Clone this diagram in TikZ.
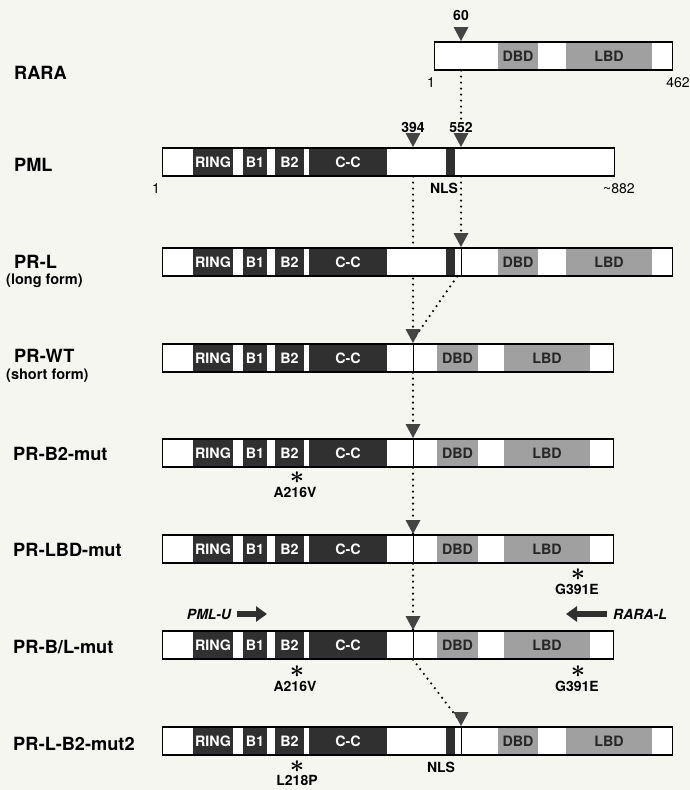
\documentclass[tikz,border=0pt]{standalone}
\usepackage{fontspec}
\setmainfont{TeX Gyre Heros}
\usetikzlibrary{arrows.meta}
\usetikzlibrary{calc}
\definecolor{paper}{HTML}{F6F6F1}
\definecolor{domdark}{HTML}{303030}
\definecolor{domgrey}{HTML}{A0A0A0}
\definecolor{tricol}{HTML}{444444}
\pgfdeclarelayer{paperlayer}
\pgfdeclarelayer{linelayer}
\pgfsetlayers{paperlayer,linelayer,main}
\newcommand{\segfont}{\bfseries\fontsize{14.3}{15}\selectfont}
\newcommand{\rowfont}{\bfseries\fontsize{18.2}{19}\selectfont}
\newcommand{\subfont}{\bfseries\fontsize{14.5}{15}\selectfont}
\newcommand{\numfont}{\fontsize{14}{15}\selectfont}
\newcommand{\mutstar}{{\boldmath$\ast$}}
\newcommand{\pmlsegs}[1]{%
  \node[darkseg=40] at (213,#1) {RING};
  \node[darkseg=24] at (255,#1) {B1};
  \node[darkseg=29] at (289.5,#1) {B2};
  \node[darkseg=78] at (348,#1) {C-C};}
\newcommand{\rarasegs}[1]{%
  \node[greyseg=40] at (518,#1) {DBD};
  \node[greyseg=86] at (609,#1) {LBD};}
\newcommand{\shortsegs}[1]{%
  \node[greyseg=41] at (457.5,#1) {DBD};
  \node[greyseg=86] at (547,#1) {LBD};}
\newcommand{\marker}[3]{%
  \coordinate (#1) at (#2,#3);
  \fill[tricol] (#1) -- ++(-7.5,-14) -- ++(15,0) -- cycle;}
\tikzset{
  bar/.style={draw=black, line width=1.1pt, fill=white, minimum height=28pt,
    inner sep=0pt, anchor=west},
  darkseg/.style={fill=domdark, text=white, minimum width=#1pt,
    minimum height=26.6pt, inner sep=0pt, font=\segfont},
  greyseg/.style={fill=domgrey, text=black!85, minimum width=#1pt,
    minimum height=26.6pt, inner sep=0pt, font=\segfont},
  junction/.style={line width=1pt},
  rowlabel/.style={anchor=west, inner sep=0pt, font=\rowfont},
  sublabel/.style={anchor=west, inner sep=0pt, font=\subfont},
  num/.style={inner sep=1pt, font=\bfseries\numfont},
  numreg/.style={inner sep=1pt, font=\numfont},
  mutlabel/.style={inner sep=0pt, font=\bfseries\numfont},
  star/.style={inner sep=0pt, font=\fontsize{23}{23}\selectfont},
  primer/.style={font=\bfseries\itshape\numfont},
  primerarrow/.style={domdark, line width=6.5pt,
    -{Triangle[length=11pt,width=15pt]}},
  dotline/.style={black, line width=2.4pt, line cap=round,
    dash pattern=on 0pt off 6pt}
}

\begin{document}
\begin{tikzpicture}[x=1pt,y=-1pt]
\useasboundingbox (0,0) rectangle (690,790);
\begin{pgfonlayer}{paperlayer}
\fill[paper] (0,0) rectangle (690,790);
\end{pgfonlayer}

% row names
\node[rowlabel] (lrara) at (14,73) {RARA};
\node[rowlabel] (lpml) at (14,165) {PML};
\node[rowlabel] (lprl) at (14,262) {PR-L};
\node[sublabel] (lprlsub) at (6,281) {(long form)};
\node[rowlabel] (lprwt) at (14,356) {PR-WT};
\node[sublabel] (lprwtsub) at (6,376) {(short form)};
\node[rowlabel] (lprb2) at (13,454) {PR-B2-mut};
\node[rowlabel] (lprlbd) at (13,550) {PR-LBD-mut};
\node[rowlabel] (lprbl) at (13,647) {PR-B/L-mut};
\node[rowlabel] (lprl2) at (13,744) {PR-L-B2-mut2};

% RARA
\node[bar, minimum width=238pt] (rara) at (434,56) {};
\rarasegs{56}
\marker{t60}{461}{41}
\node[num] (n60) at (461,15) {60};
\node[numreg] (r1) at (431,83) {1};
\node[numreg] (r462) at (678,83) {462};

% PML
\node[bar, minimum width=452pt] (pml) at (162,162) {};
\pmlsegs{162}
\node[darkseg=9] (nls) at (450.5,162) {};
\marker{t394}{413}{147}
\marker{t552}{461}{147}
\node[num] (n394) at (413,127) {394};
\node[num] (n552) at (461,127) {552};
\node[numreg] (p1) at (156,189) {1};
\node[numreg] (p882) at (619,189) {\textasciitilde882};
\node[mutlabel] (lnls) at (444,188) {NLS};

% PR-L
\node[bar, minimum width=510pt] (prl) at (162,262) {};
\pmlsegs{262}
\node[darkseg=9] (nlsl) at (450.5,262) {};
\rarasegs{262}
\marker{tprl}{461}{247}
\draw[junction] (tprl |- prl.north) -- (tprl |- prl.south);

% PR-WT
\node[bar, minimum width=451pt] (prwt) at (162,358) {};
\pmlsegs{358}
\shortsegs{358}
\marker{twt}{413}{343}
\draw[junction] (twt |- prwt.north) -- (twt |- prwt.south);

% PR-B2-mut
\node[bar, minimum width=451pt] (prb2) at (162,453) {};
\pmlsegs{453}
\shortsegs{453}
\marker{tb2}{413}{438}
\draw[junction] (tb2 |- prb2.north) -- (tb2 |- prb2.south);
\node[star] (sb2) at (297,478) {\mutstar};
\node[mutlabel] (mb2) at (295,492) {A216V};

% PR-LBD-mut
\node[bar, minimum width=451pt] (prlbd) at (162,549) {};
\pmlsegs{549}
\shortsegs{549}
\marker{tlbd}{413}{534}
\draw[junction] (tlbd |- prlbd.north) -- (tlbd |- prlbd.south);
\node[star] (slbd) at (578,575) {\mutstar};
\node[mutlabel] (mlbd) at (577,589) {G391E};

% PR-B/L-mut
\node[bar, minimum width=451pt] (prbl) at (162,645) {};
\pmlsegs{645}
\shortsegs{645}
\marker{tbl}{413}{630}
\draw[junction] (tbl |- prbl.north) -- (tbl |- prbl.south);
\node[star] (sbl1) at (297,672) {\mutstar};
\node[mutlabel] (mbl1) at (295,686) {A216V};
\node[star] (sbl2) at (578,672) {\mutstar};
\node[mutlabel] (mbl2) at (577,686) {G391E};
\node[primer] (pmlu) at (209,614) {PML-U};
\coordinate (pmluend) at (267,614);
\draw[primerarrow] ([xshift=2pt]pmlu.east) -- (pmluend);
\node[primer] (raral) at (640,614) {RARA-L};
\coordinate (raralend) at (566,614);
\draw[primerarrow] ([xshift=-3pt]raral.west) -- (raralend);

% PR-L-B2-mut2
\node[bar, minimum width=510pt] (prl2) at (162,741) {};
\pmlsegs{741}
\node[darkseg=9] (nls2) at (450.5,741) {};
\rarasegs{741}
\marker{tl2}{461}{726}
\draw[junction] (tl2 |- prl2.north) -- (tl2 |- prl2.south);
\node[star] (sl2) at (297,766.5) {\mutstar};
\node[mutlabel] (ml2) at (297,780) {L218P};
\node[mutlabel] (lnls2) at (441,767) {NLS};

\begin{pgfonlayer}{linelayer}
\draw[dotline] (rara.south -| t60) -- (n552.north);
\draw[dotline] (pml.south -| t394) -- (twt);
\draw[dotline] (pml.south -| t552) -- (tprl);
\draw[dotline] ($(tprl |- prl.south)+(-4,0)$) -- ($(twt)+(2,-6)$);
\draw[dotline] (prwt.south -| twt) -- (tb2);
\draw[dotline] (prb2.south -| tb2) -- (tlbd);
\draw[dotline] (prlbd.south -| tlbd) -- (tbl);
\draw[dotline] (prbl.south -| tbl) -- ($(tl2)+(-2,-6)$);
\end{pgfonlayer}
\end{tikzpicture}
\end{document}
